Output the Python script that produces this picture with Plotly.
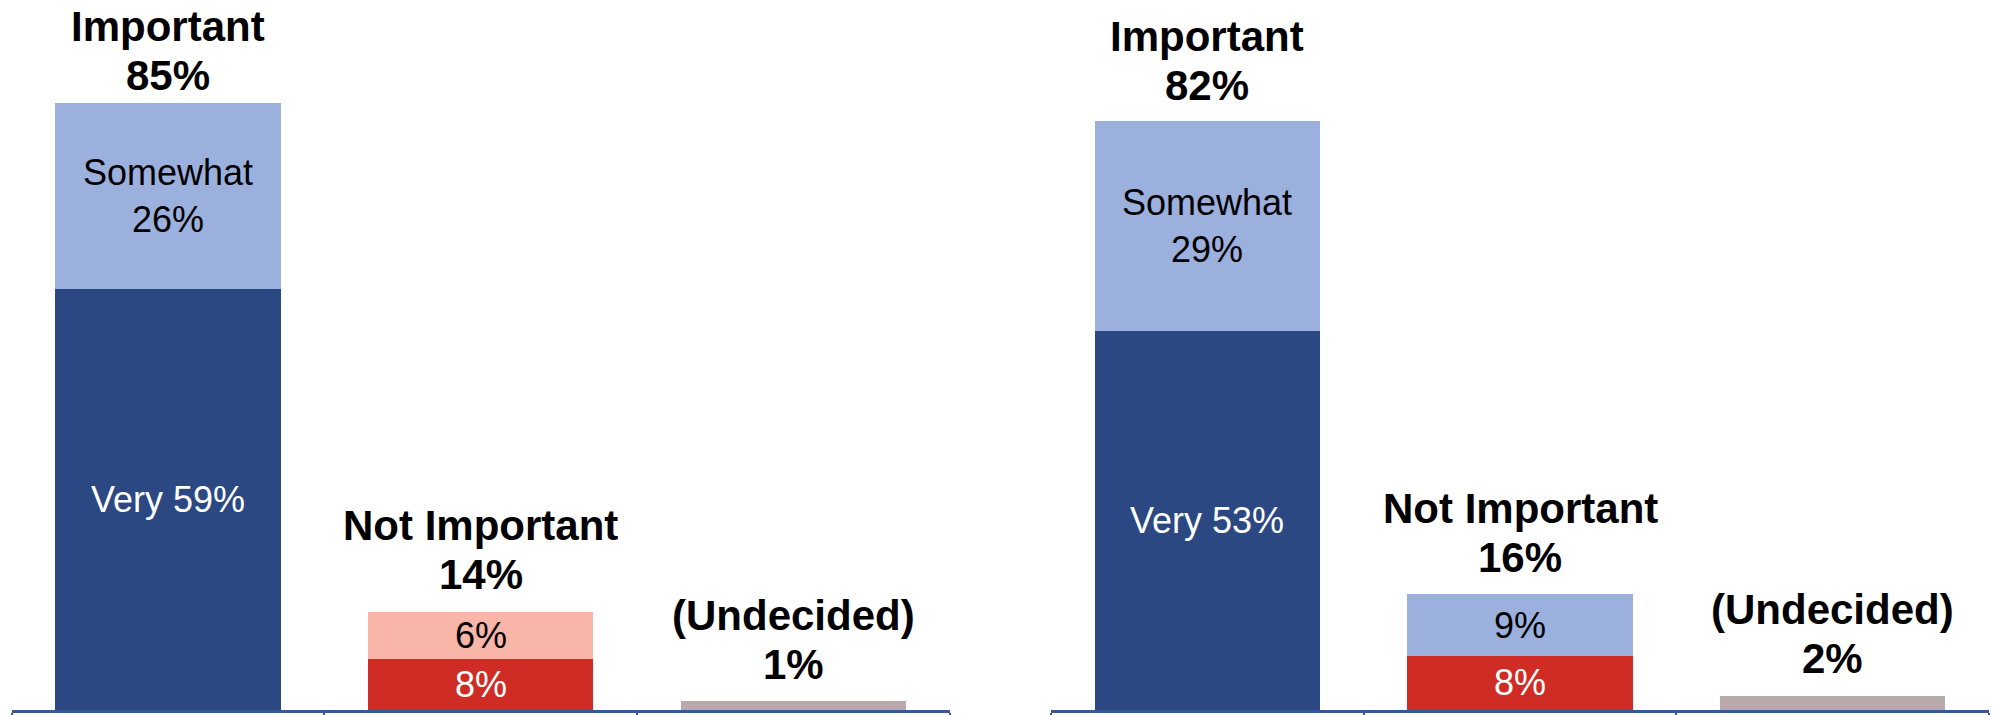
import plotly.graph_objects as go
from plotly.subplots import make_subplots

# ---- data ----
categories = ["Important", "Not Important", "(Undecided)"]
total_labels = ["Important", "Not Important", "(Undecided)"]

# left panel
left_base = [59, 7.2, 1.2]          # bottom segments (Very / Very not / Undecided)
left_top = [26, 6.5, 0]             # upper segments (Somewhat / Somewhat not)
left_base_text = ["Very 59%", "8%", ""]
left_top_text = ["Somewhat<br>26%", "6%", ""]
left_totals = ["85%", "14%", "1%"]

# right panel
right_base = [53, 7.6, 2]
right_top = [29.5, 8.6, 0]
right_base_text = ["Very 53%", "8%", ""]
right_top_text = ["Somewhat<br>29%", "9%", ""]
right_totals = ["82%", "16%", "2%"]

# ---- style ----
DARK_BLUE = "#2B4883"
LIGHT_BLUE = "#9CB0DE"
RED = "#D02C26"
PINK = "#F8B5A8"
GRAY = "#B5AAA7"
AXIS = "#3A5898"

left_base_colors = [DARK_BLUE, RED, GRAY]
left_top_colors = [LIGHT_BLUE, PINK, GRAY]
right_base_colors = [DARK_BLUE, RED, GRAY]
right_top_colors = [LIGHT_BLUE, LIGHT_BLUE, GRAY]

base_text_colors = ["white", "white", "black"]
top_text_colors = ["black", "black", "black"]

# pixel gap between bar top and the total label baseline
left_gaps = [13, 23, 22]
right_gaps = [21, 22, 23]
LINE_GAP = 49      # baseline-to-baseline distance of the two bold lines
BASE_OFF = 11      # baseline height above annotation box bottom

FONT = "Liberation Sans, Arial, sans-serif"

fig = make_subplots(rows=1, cols=2, horizontal_spacing=0.05)

xs = list(range(len(categories)))
panels = [
    (1, left_base, left_top, left_base_colors, left_top_colors, left_base_text, left_top_text, left_totals, left_gaps),
    (2, right_base, right_top, right_base_colors, right_top_colors, right_base_text, right_top_text, right_totals, right_gaps),
]

annotations = []
for col, base, top, bcol, tcol, btxt, ttxt, tot, gaps in panels:
    fig.add_trace(go.Bar(x=xs, y=base, marker=dict(color=bcol, line=dict(width=0)),
                         width=0.72, showlegend=False, hoverinfo="skip"), row=1, col=col)
    fig.add_trace(go.Bar(x=xs, y=top, marker=dict(color=tcol, line=dict(width=0)),
                         width=0.72, showlegend=False, hoverinfo="skip"), row=1, col=col)
    xref = "x" if col == 1 else "x2"
    yref = "y" if col == 1 else "y2"
    for i in xs:
        if btxt[i]:
            annotations.append(dict(x=i, y=base[i] / 2, xref=xref, yref=yref, text=btxt[i],
                                    showarrow=False, font=dict(family=FONT, size=36, color=base_text_colors[i])))
        if ttxt[i]:
            annotations.append(dict(x=i, y=base[i] + top[i] / 2, xref=xref, yref=yref, text=ttxt[i],
                                    showarrow=False, font=dict(family=FONT, size=36, color=top_text_colors[i])))
        ytop = base[i] + top[i]
        annotations.append(dict(x=i, y=ytop, xref=xref, yref=yref,
                                text="<b>%s</b>" % tot[i],
                                showarrow=False, yanchor="bottom", yshift=gaps[i] - BASE_OFF,
                                font=dict(family=FONT, size=42, color="black")))
        annotations.append(dict(x=i, y=ytop, xref=xref, yref=yref,
                                text="<b>%s</b>" % total_labels[i],
                                showarrow=False, yanchor="bottom", yshift=gaps[i] - BASE_OFF + LINE_GAP,
                                font=dict(family=FONT, size=42, color="black")))

axis_common = dict(range=[-0.5, 2.5], showline=True, linecolor=AXIS, linewidth=3,
                   ticks="outside", tickvals=[-0.5, 0.5, 1.5, 2.5], ticklen=8,
                   tickcolor=AXIS, tickwidth=2, showticklabels=False, showgrid=False,
                   zeroline=False, fixedrange=True)
fig.update_xaxes(**axis_common)
fig.update_xaxes(domain=[0.0058, 0.4757], row=1, col=1)
fig.update_xaxes(domain=[0.5263, 0.9960], row=1, col=2)
fig.update_yaxes(range=[0, 99.4], visible=False, showgrid=False, zeroline=False, fixedrange=True)

fig.update_layout(
    barmode="stack",
    width=1997, height=715,
    margin=dict(l=0, r=0, t=0, b=5, autoexpand=False),
    paper_bgcolor="white", plot_bgcolor="white",
    annotations=annotations,
    font=dict(family=FONT),
    hovermode=False,
)

fig.write_html("out.html", config={"displayModeBar": False, "staticPlot": True},
               post_script="document.body.style.margin='0';document.body.style.overflow='hidden';")
